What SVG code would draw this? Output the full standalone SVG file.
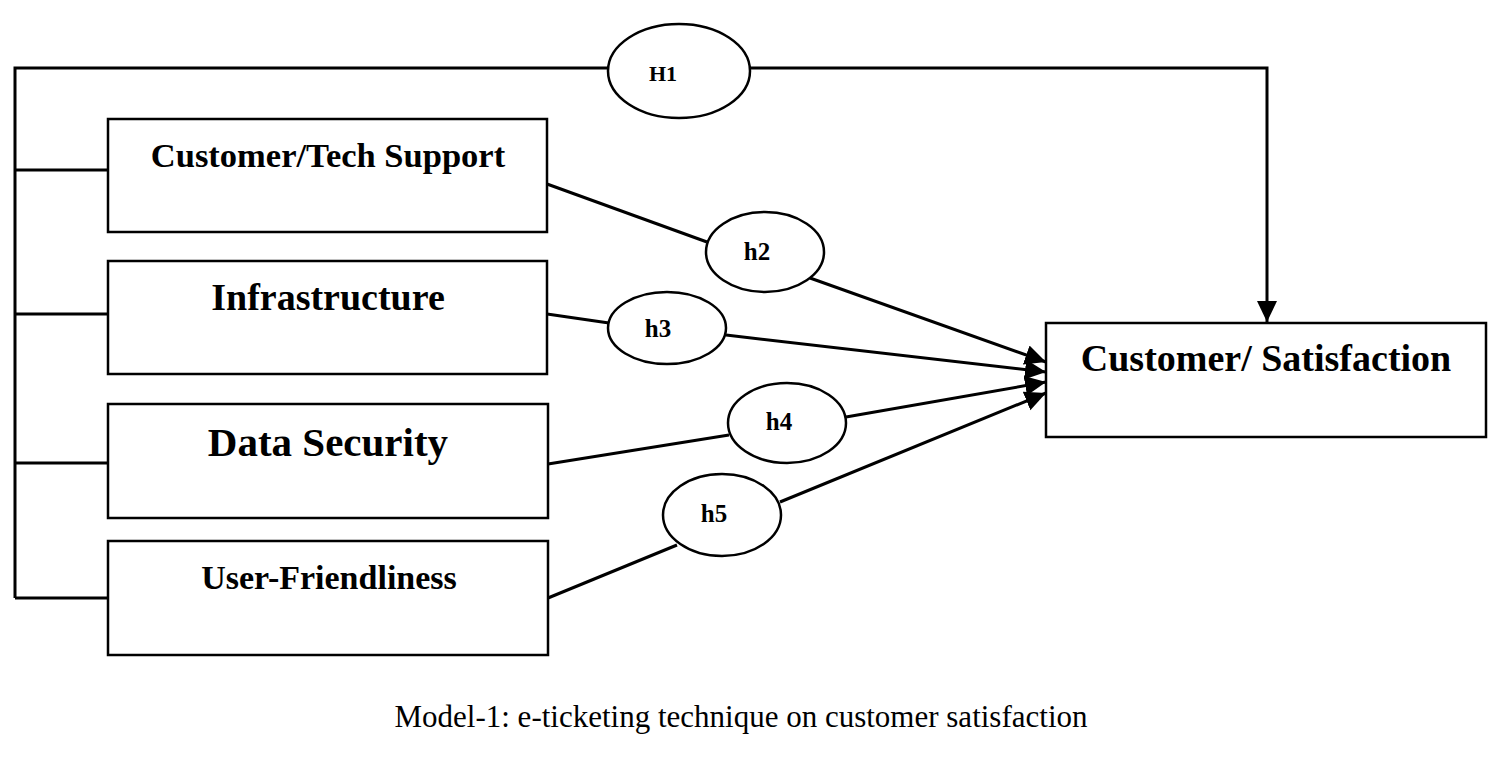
<svg xmlns="http://www.w3.org/2000/svg" width="1500" height="757" viewBox="0 0 1500 757">
<defs>
<style>
.box{fill:#fff;stroke:#000;stroke-width:2.5}
.ell{fill:#fff;stroke:#000;stroke-width:2.5}
.ln{fill:none;stroke:#000;stroke-width:3}
.t{font-family:"Liberation Serif","Times New Roman",serif;font-weight:bold;fill:#000;text-anchor:middle}
.hl{font-size:25px}
.cap{font-family:"Liberation Serif","Times New Roman",serif;fill:#000;text-anchor:middle;font-size:31px}
</style>
<marker id="ah" markerUnits="userSpaceOnUse" markerWidth="24" markerHeight="22" refX="21" refY="10" orient="auto">
<path d="M0,0 L21,10 L0,20 Z" fill="#000"/>
</marker>
</defs>
<rect width="1500" height="757" fill="#fff"/>
<g id="connectors">
<path class="ln" d="M608,68 L15,68 L15,598"/>
<path class="ln" d="M750,68 L1267,68 L1267,322" marker-end="url(#ah)"/>
<line class="ln" x1="15" y1="170" x2="108" y2="170"/>
<line class="ln" x1="15" y1="314" x2="108" y2="314"/>
<line class="ln" x1="15" y1="463" x2="108" y2="463"/>
<line class="ln" x1="15" y1="598" x2="108" y2="598"/>
<line class="ln" x1="547" y1="184" x2="707" y2="242"/>
<line class="ln" x1="810" y1="278" x2="1046" y2="362" marker-end="url(#ah)"/>
<line class="ln" x1="547" y1="314" x2="609" y2="323"/>
<line class="ln" x1="726" y1="335" x2="1046" y2="372" marker-end="url(#ah)"/>
<line class="ln" x1="548" y1="464" x2="729" y2="435"/>
<line class="ln" x1="846" y1="417" x2="1046" y2="382" marker-end="url(#ah)"/>
<line class="ln" x1="548" y1="598" x2="677" y2="545"/>
<line class="ln" x1="780" y1="502" x2="1046" y2="393" marker-end="url(#ah)"/>
</g>
<g id="n-tech">
<rect class="box" x="108" y="119" width="439" height="113"/>
<text class="t" x="328" y="167" font-size="34.5">Customer/Tech Support</text>
</g>
<g id="n-infra">
<rect class="box" x="108" y="261" width="439" height="113"/>
<text class="t" x="328" y="310" font-size="38">Infrastructure</text>
</g>
<g id="n-data">
<rect class="box" x="108" y="404" width="440" height="114"/>
<text class="t" x="328" y="456" font-size="41">Data Security</text>
</g>
<g id="n-user">
<rect class="box" x="108" y="541" width="440" height="114"/>
<text class="t" x="329" y="589" font-size="34">User-Friendliness</text>
</g>
<g id="n-sat">
<rect class="box" x="1046" y="323" width="440" height="114"/>
<text class="t" x="1266" y="371" font-size="38">Customer/ Satisfaction</text>
</g>
<g id="H1">
<ellipse class="ell" cx="679" cy="71" rx="71" ry="47"/>
<text class="t" x="663" y="81" font-size="22">H1</text>
</g>
<g id="h2">
<ellipse class="ell" cx="765" cy="252" rx="59" ry="40"/>
<text class="t hl" x="757" y="260">h2</text>
</g>
<g id="h3">
<ellipse class="ell" cx="667" cy="328" rx="59" ry="36"/>
<text class="t hl" x="658" y="337">h3</text>
</g>
<g id="h4">
<ellipse class="ell" cx="787" cy="423" rx="59" ry="40"/>
<text class="t hl" x="779" y="430">h4</text>
</g>
<g id="h5">
<ellipse class="ell" cx="722" cy="515" rx="59" ry="41"/>
<text class="t hl" x="714" y="522">h5</text>
</g>
<text class="cap" x="741" y="727">Model-1: e-ticketing technique on customer satisfaction</text>
</svg>
